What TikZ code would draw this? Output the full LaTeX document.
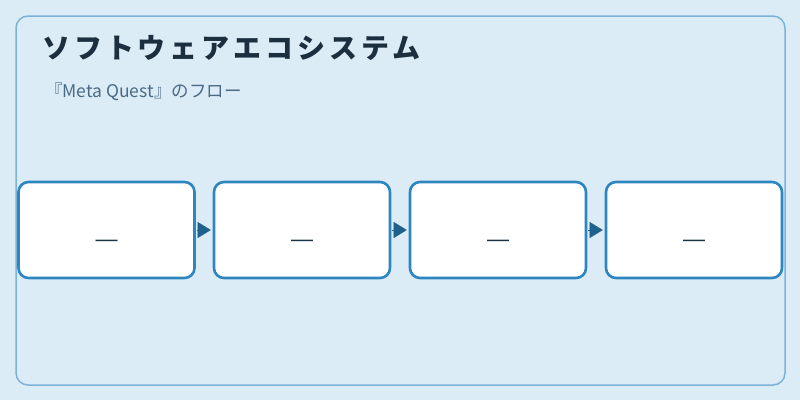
\documentclass[tikz,border=0pt]{standalone}
\usepackage{fontspec}
\setmainfont{Noto Sans CJK JP}
\newfontfamily\latinsans{Liberation Sans}
\usetikzlibrary{arrows.meta}
\definecolor{bgc}{HTML}{DCECF7}
\definecolor{framec}{HTML}{7AB3D7}
\definecolor{boxc}{HTML}{2E86C1}
\definecolor{arrc}{HTML}{1F618D}
\definecolor{titlec}{HTML}{1B2F3E}
\definecolor{subc}{HTML}{4A6A85}
\definecolor{dashc}{HTML}{1B3342}
\tikzset{
  stepbox/.style={draw=boxc, line width=2.6pt, fill=white, rounded corners=10pt,
    minimum width=176pt, minimum height=96pt, inner sep=0pt},
  flowarrow/.style={draw=arrc, line width=0.1pt, -{Triangle[length=13pt,width=16pt]}, shorten >=2pt, shorten <=1pt},
  dashtext/.style={anchor=base, font=\latinsans\fontsize{22}{22}\selectfont, text=dashc, inner sep=0pt},
}
\begin{document}
\begin{tikzpicture}[x=1pt,y=-1pt]
\useasboundingbox (0,0) rectangle (800,400);
\fill[bgc] (0,0) rectangle (800,400);
\draw[framec, line width=1.5pt, rounded corners=12pt] (16,16) rectangle (785,385);
\node[anchor=base west, inner sep=0pt, text=titlec, font=\bfseries\fontsize{28}{28}\selectfont\addfontfeatures{LetterSpace=14}] (title) at (42,58) {ソフトウェアエコシステム};
\node[anchor=base west, inner sep=0pt, text=subc, font=\fontsize{17.5}{17.5}\selectfont] (sub) at (45,97) {『Meta Quest』のフロー};
\node[stepbox] (b1) at (106.5,230) {};
\node[stepbox] (b2) at (302,230) {};
\node[stepbox] (b3) at (498,230) {};
\node[stepbox] (b4) at (694,230) {};
\foreach \n/\x in {1/106.5,2/302,3/498,4/694}{
  \node[dashtext] (d\n) at (\x,246) {—};
}
\draw[flowarrow] (b1.east) -- (b2.west);
\draw[flowarrow] (b2.east) -- (b3.west);
\draw[flowarrow] (b3.east) -- (b4.west);
\end{tikzpicture}
\end{document}
